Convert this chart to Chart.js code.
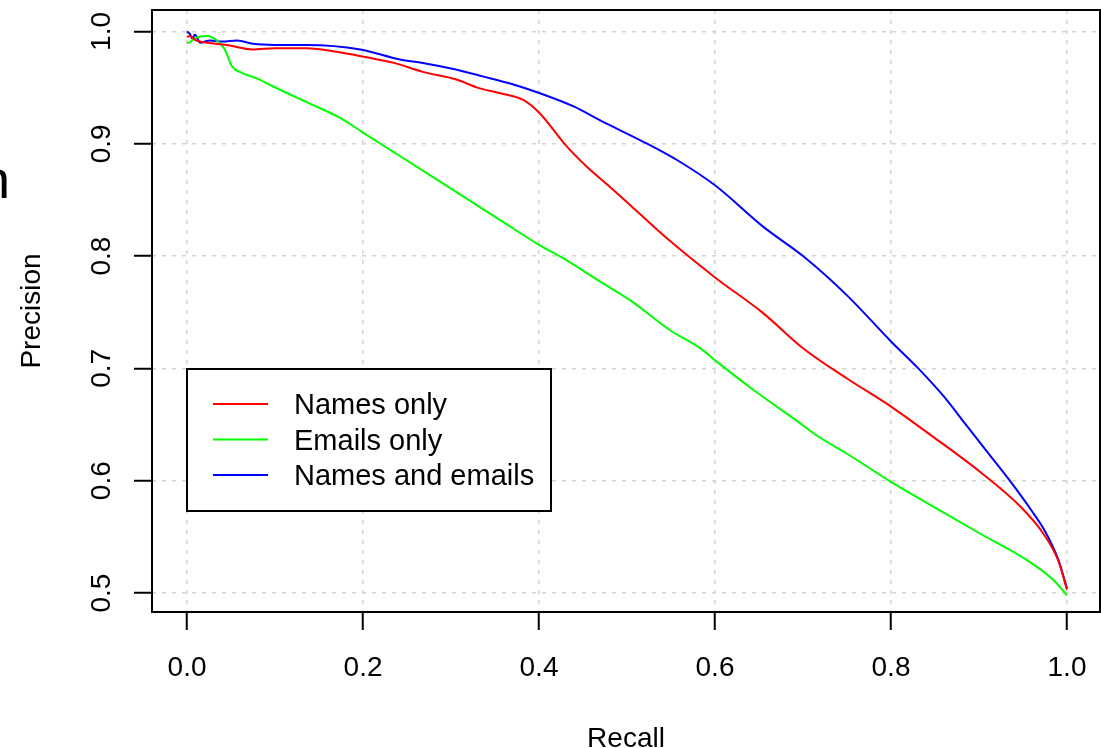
<!DOCTYPE html>
<html>
<head>
<meta charset="utf-8">
<script src="https://cdn.jsdelivr.net/npm/chart.js@4.4.1/dist/chart.umd.min.js"></script>
<style>
  body { margin: 0; background: #fff; }
  canvas { display: block; }
</style>
</head>
<body>
<canvas id="prChart" width="1101" height="748"></canvas>
<script>
const seriesLabels = ["Names only", "Emails only", "Names and emails"];
const seriesColors = ["#ff0000", "#00ff00", "#0000ff"];

const namesRecall = [0, 0.003, 0.01, 0.023, 0.045, 0.075, 0.1, 0.136, 0.17, 0.204, 0.235, 0.268, 0.307, 0.33, 0.356, 0.382, 0.401, 0.43, 0.455, 0.48, 0.5, 0.545, 0.6, 0.655, 0.7, 0.75, 0.8, 0.848, 0.901, 0.947, 0.973, 0.99, 1.0];
const namesPrecision = [0.995, 0.996, 0.992, 0.990, 0.988, 0.984, 0.985, 0.985, 0.982, 0.977, 0.972, 0.964, 0.957, 0.950, 0.945, 0.939, 0.927, 0.899, 0.879, 0.862, 0.848, 0.816, 0.781, 0.749, 0.718, 0.691, 0.666, 0.639, 0.608, 0.577, 0.553, 0.529, 0.503];

const emailsRecall = [0, 0.002, 0.009, 0.023, 0.034, 0.043, 0.051, 0.06, 0.08, 0.098, 0.136, 0.174, 0.2, 0.24, 0.28, 0.32, 0.356, 0.4, 0.432, 0.47, 0.503, 0.549, 0.583, 0.602, 0.64, 0.697, 0.716, 0.75, 0.8, 0.859, 0.901, 0.955, 0.984, 1.0];
const emailsPrecision = [0.99, 0.990, 0.994, 0.996, 0.992, 0.984, 0.969, 0.964, 0.958, 0.951, 0.937, 0.923, 0.910, 0.890, 0.870, 0.850, 0.832, 0.810, 0.796, 0.777, 0.761, 0.734, 0.718, 0.706, 0.683, 0.651, 0.640, 0.624, 0.599, 0.572, 0.553, 0.529, 0.512, 0.498];

const bothRecall = [0, 0.003, 0.006, 0.009, 0.015, 0.026, 0.04, 0.057, 0.075, 0.1, 0.136, 0.197, 0.242, 0.268, 0.3, 0.336, 0.37, 0.401, 0.44, 0.469, 0.518, 0.56, 0.6, 0.655, 0.7, 0.75, 0.8, 0.831, 0.86, 0.886, 0.91, 0.935, 0.96, 0.975, 0.99, 1.0];
const bothPrecision = [1.0, 0.998, 0.994, 0.997, 0.990, 0.992, 0.991, 0.992, 0.989, 0.988, 0.988, 0.984, 0.975, 0.972, 0.967, 0.960, 0.953, 0.945, 0.933, 0.921, 0.902, 0.884, 0.863, 0.826, 0.800, 0.765, 0.724, 0.700, 0.675, 0.649, 0.625, 0.600, 0.573, 0.555, 0.530, 0.504];

const xTicks = [0, 0.2, 0.4, 0.6, 0.8, 1.0];
const yTicks = [0.5, 0.6, 0.7, 0.8, 0.9, 1.0];
const xTickLabels = ["0.0", "0.2", "0.4", "0.6", "0.8", "1.0"];
const yTickLabels = ["0.5", "0.6", "0.7", "0.8", "0.9", "1.0"];

const FONT = '"Liberation Sans", Arial, sans-serif';

function toPoints(xs, ys) {
  return xs.map((x, i) => ({ x: x, y: ys[i] }));
}

const allSeries = [
  toPoints(namesRecall, namesPrecision),
  toPoints(emailsRecall, emailsPrecision),
  toPoints(bothRecall, bothPrecision)
];

// draws the R style box, tick labels, axis titles and legend
const baseGraphics = {
  id: "baseGraphics",
  afterDraw(chart) {
    const ctx = chart.ctx;
    const area = chart.chartArea;
    const xs = chart.scales.x;
    const ys = chart.scales.y;
    ctx.save();

    ctx.strokeStyle = "#000";
    ctx.lineWidth = 2;
    ctx.strokeRect(area.left, area.top, area.right - area.left, area.bottom - area.top);

    ctx.fillStyle = "#000";
    ctx.font = "28px " + FONT;
    ctx.textAlign = "center";
    ctx.textBaseline = "alphabetic";
    xTicks.forEach((v, i) => {
      ctx.fillText(xTickLabels[i], xs.getPixelForValue(v), 676);
    });
    yTicks.forEach((v, i) => {
      ctx.save();
      ctx.translate(110, ys.getPixelForValue(v));
      ctx.rotate(-Math.PI / 2);
      ctx.fillText(yTickLabels[i], 0, 0);
      ctx.restore();
    });

    // axis titles
    ctx.fillText("Recall", (area.left + area.right) / 2, 747);
    ctx.save();
    ctx.translate(40, (area.top + area.bottom) / 2);
    ctx.rotate(-Math.PI / 2);
    ctx.fillText("Precision", 0, 0);
    ctx.restore();

    // clipped letter at the left edge
    ctx.font = "54px " + FONT;
    ctx.textAlign = "left";
    ctx.fillText("n", -20, 198);

    // legend
    ctx.fillStyle = "#fff";
    ctx.fillRect(187, 369, 364, 142);
    ctx.strokeStyle = "#000";
    ctx.lineWidth = 2;
    ctx.strokeRect(187, 369, 364, 142);
    ctx.font = "29px " + FONT;
    ctx.fillStyle = "#000";
    chart.data.datasets.forEach((ds, i) => {
      const ly = 404 + i * 35.5;
      ctx.strokeStyle = ds.borderColor;
      ctx.lineWidth = 2;
      ctx.beginPath();
      ctx.moveTo(213, ly);
      ctx.lineTo(268, ly);
      ctx.stroke();
      ctx.fillText(ds.label, 294, ly + 10);
    });

    ctx.restore();
  }
};

const gridStyle = {
  color: "#d3d3d3",
  lineWidth: 1.5,
  drawTicks: true,
  tickLength: 18,
  tickColor: "#000",
  tickWidth: 2,
  tickBorderDash: []
};

new Chart(document.getElementById("prChart"), {
  type: "scatter",
  data: {
    datasets: allSeries.map((pts, i) => ({
      label: seriesLabels[i],
      data: pts,
      showLine: true,
      borderColor: seriesColors[i],
      backgroundColor: seriesColors[i],
      borderWidth: 2,
      pointRadius: 0,
      cubicInterpolationMode: "monotone"
    }))
  },
  options: {
    responsive: false,
    animation: false,
    devicePixelRatio: 1,
    layout: { padding: { top: 10, right: 1, left: 0, bottom: 0 } },
    plugins: { legend: { display: false }, tooltip: { enabled: false } },
    scales: {
      x: {
        type: "linear",
        min: -0.0398,
        max: 1.0375,
        afterBuildTicks: s => { s.ticks = xTicks.map(v => ({ value: v })); },
        afterFit: s => { s.height = 136; },
        ticks: { display: false },
        grid: gridStyle,
        border: { display: false, dash: [4, 6] }
      },
      y: {
        type: "linear",
        min: 0.4831,
        max: 1.0191,
        afterBuildTicks: s => { s.ticks = yTicks.map(v => ({ value: v })); },
        afterFit: s => { s.width = 152; },
        ticks: { display: false },
        grid: gridStyle,
        border: { display: false, dash: [4, 6] }
      }
    }
  },
  plugins: [baseGraphics]
});
</script>
</body>
</html>
